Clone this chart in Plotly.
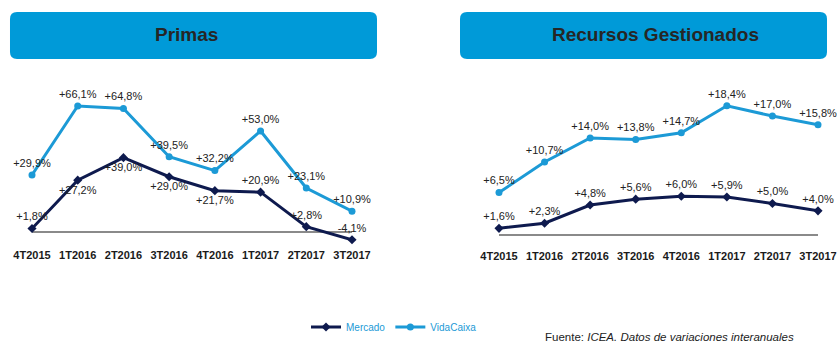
import plotly.graph_objects as go

categories = ["4T2015", "1T2016", "2T2016", "3T2016", "4T2016", "1T2017", "2T2017", "3T2017"]
primas_mercado = [1.8, 27.2, 39.0, 29.0, 21.7, 20.9, 2.8, -4.1]
primas_vidacaixa = [29.9, 66.1, 64.8, 39.5, 32.2, 53.0, 23.1, 10.9]
recursos_mercado = [1.6, 2.3, 4.8, 5.6, 6.0, 5.9, 5.0, 4.0]
recursos_vidacaixa = [6.5, 10.7, 14.0, 13.8, 14.7, 18.4, 17.0, 15.8]

OFF = 0  # body margin removed via post_script
W, H = 840, 359
NAVY = "#0e1a4e"
BLUE = "#1c9ad6"
BOX = "#009ad8"
FONT = "Liberation Sans, Arial, sans-serif"


def px(x):
    return (x - OFF) / W


def py(y):
    return 1 - (y - OFF) / H


def fmt(v):
    return f"{v:+.1f}%".replace(".", ",")


def rounded_rect(x0, y0, x1, y1, r):
    X = lambda v: f"{px(v):.5f}"
    Y = lambda v: f"{py(v):.5f}"
    return (f"M {X(x0 + r)} {Y(y0)} L {X(x1 - r)} {Y(y0)} Q {X(x1)} {Y(y0)} {X(x1)} {Y(y0 + r)} "
            f"L {X(x1)} {Y(y1 - r)} Q {X(x1)} {Y(y1)} {X(x1 - r)} {Y(y1)} "
            f"L {X(x0 + r)} {Y(y1)} Q {X(x0)} {Y(y1)} {X(x0)} {Y(y1 - r)} "
            f"L {X(x0)} {Y(y0 + r)} Q {X(x0)} {Y(y0)} {X(x0 + r)} {Y(y0)} Z")


fig = go.Figure()

pos_primas_merc = ["top center", "bottom center", "bottom center", "bottom center",
                   "bottom center", "top center", "top center", "top center"]

label_font = dict(family=FONT, size=11, color="#222222")

fig.add_trace(go.Scatter(
    x=categories, y=primas_mercado, mode="lines+markers+text", name="Mercado",
    line=dict(color=NAVY, width=3), marker=dict(symbol="diamond", size=7, color=NAVY),
    text=[fmt(v) for v in primas_mercado], textposition=pos_primas_merc,
    textfont=label_font, cliponaxis=False, xaxis="x", yaxis="y", showlegend=True))
fig.add_trace(go.Scatter(
    x=categories, y=primas_vidacaixa, mode="lines+markers+text", name="VidaCaixa",
    line=dict(color=BLUE, width=3), marker=dict(symbol="circle", size=7, color=BLUE),
    text=[fmt(v) for v in primas_vidacaixa], textposition="top center",
    textfont=label_font, cliponaxis=False, xaxis="x", yaxis="y", showlegend=True))

fig.add_trace(go.Scatter(
    x=categories, y=recursos_mercado, mode="lines+markers+text", name="Mercado",
    line=dict(color=NAVY, width=3), marker=dict(symbol="diamond", size=7, color=NAVY),
    text=[fmt(v) for v in recursos_mercado], textposition="top center",
    textfont=label_font, cliponaxis=False, xaxis="x2", yaxis="y2", showlegend=False))
fig.add_trace(go.Scatter(
    x=categories, y=recursos_vidacaixa, mode="lines+markers+text", name="VidaCaixa",
    line=dict(color=BLUE, width=3), marker=dict(symbol="circle", size=7, color=BLUE),
    text=[fmt(v) for v in recursos_vidacaixa], textposition="top center",
    textfont=label_font, cliponaxis=False, xaxis="x2", yaxis="y2", showlegend=False))

tickfont = dict(family=FONT, size=11, color="#1a1a1a", weight="bold")

fig.update_layout(
    template="none",
    width=W, height=H,
    margin=dict(l=0, r=0, t=0, b=0, autoexpand=False),
    paper_bgcolor="white", plot_bgcolor="white",
    font=dict(family=FONT),
    hovermode=False,
    xaxis=dict(domain=[px(32), px(352)], range=[0, 7], type="category",
               showgrid=False, showline=False, zeroline=False, automargin=False,
               ticks="outside", ticklen=4, tickcolor="rgba(0,0,0,0)",
               tickfont=tickfont, anchor="y"),
    yaxis=dict(domain=[py(241), py(100)], range=[-4.72, 69.25],
               showgrid=False, showticklabels=False, ticks="", automargin=False,
               zeroline=True, zerolinecolor="#8a8a8a", zerolinewidth=1.5,
               showline=False, anchor="x"),
    xaxis2=dict(domain=[px(499), px(818)], range=[0, 7], type="category",
                showgrid=False, showline=True, linecolor="#8a8a8a", linewidth=1.5,
                zeroline=False, automargin=False,
                ticks="outside", ticklen=11, tickcolor="rgba(0,0,0,0)",
                tickfont=tickfont, anchor="y2"),
    yaxis2=dict(domain=[py(234), py(100)], range=[0.823, 19.2],
                showgrid=False, showticklabels=False, ticks="", automargin=False,
                zeroline=False, showline=False, anchor="x2"),
    legend=dict(orientation="h", x=px(306), y=py(327), xanchor="left", yanchor="middle",
                font=dict(family=FONT, size=10, color=BLUE),
                itemwidth=30, tracegroupgap=0, bgcolor="rgba(0,0,0,0)"),
    shapes=[
        dict(type="path", xref="paper", yref="paper",
             path=rounded_rect(10, 12, 377, 59, 7), fillcolor=BOX, line=dict(width=0),
             layer="below"),
        dict(type="path", xref="paper", yref="paper",
             path=rounded_rect(460, 12, 827, 59, 7), fillcolor=BOX, line=dict(width=0),
             layer="below"),
    ],
    annotations=[
        dict(text="<b>Primas</b>", x=px(186), y=py(35), xref="paper", yref="paper",
             showarrow=False, xanchor="center", yanchor="middle",
             font=dict(family=FONT, size=19, color="#262626")),
        dict(text="<b>Recursos Gestionados</b>", x=px(655), y=py(35), xref="paper",
             yref="paper", showarrow=False, xanchor="center", yanchor="middle",
             font=dict(family=FONT, size=19, color="#262626")),
        dict(text="Fuente: <i>ICEA. Datos de variaciones interanuales</i>",
             x=px(543), y=py(337), xref="paper", yref="paper", showarrow=False,
             xanchor="left", yanchor="middle",
             font=dict(family=FONT, size=11.5, color="#222222")),
    ],
)

fig.write_html(
    "out.html",
    config={"displayModeBar": False},
    post_script="document.body.style.margin='0';document.body.style.overflow='hidden';",
)
